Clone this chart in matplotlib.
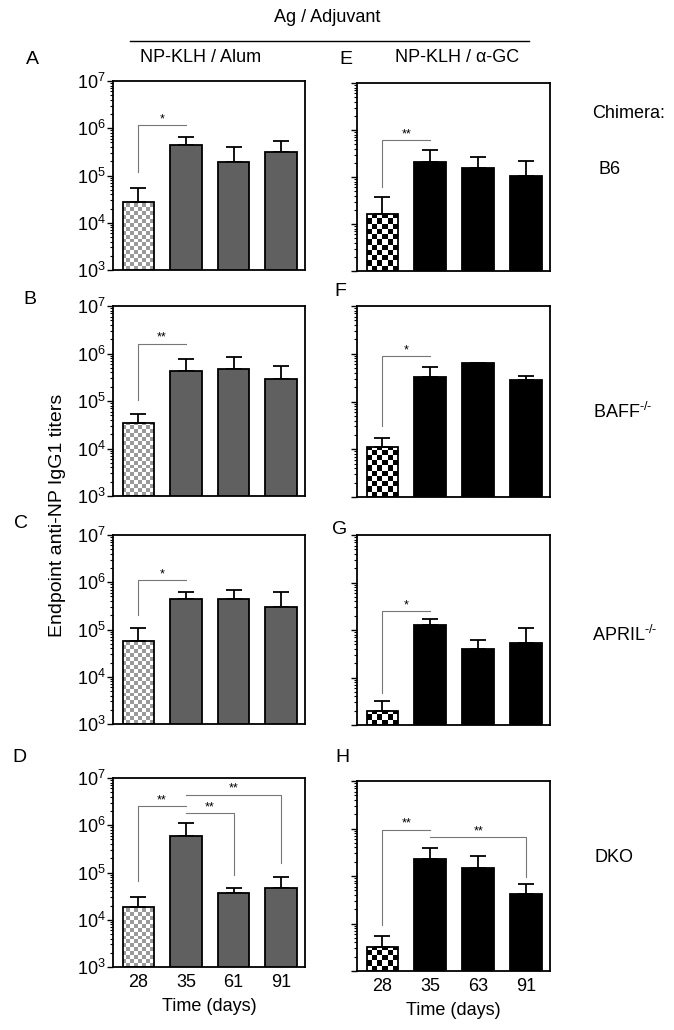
import numpy as np
import matplotlib
matplotlib.use("Agg")
import matplotlib.pyplot as plt
from matplotlib.colors import ListedColormap
from matplotlib.lines import Line2D
from matplotlib.ticker import LogLocator, LogFormatterSciNotation, NullFormatter

plt.rcParams['font.family'] = ['Liberation Sans', 'DejaVu Sans']
plt.rcParams['mathtext.fontset'] = 'custom'
plt.rcParams['mathtext.rm'] = 'Liberation Sans'
plt.rcParams['mathtext.it'] = 'Liberation Sans:italic'

# x categories (days after immunisation)
days_alum = ['28', '35', '61', '91']
days_agc = ['28', '35', '63', '91']

# mean endpoint titers and top of the error bar, NP-KLH / Alum
alum_b6 = [2.8e4, 4.5e5, 1.9e5, 3.2e5]
alum_b6_top = [5.5e4, 6.6e5, 4.0e5, 5.5e5]
alum_baff = [3.4e4, 4.3e5, 4.8e5, 2.9e5]
alum_baff_top = [5.3e4, 7.7e5, 8.3e5, 5.5e5]
alum_april = [5.8e4, 4.4e5, 4.4e5, 3.0e5]
alum_april_top = [1.09e5, 6.1e5, 6.7e5, 6.1e5]
alum_dko = [1.9e4, 6.0e5, 3.6e4, 4.8e4]
alum_dko_top = [3.0e4, 1.12e6, 4.6e4, 8.0e4]

# NP-KLH / alpha-GC
agc_b6 = [1.6e4, 2.1e5, 1.55e5, 1.03e5]
agc_b6_top = [3.75e4, 3.7e5, 2.6e5, 2.15e5]
agc_baff = [1.12e4, 3.2e5, 6.3e5, 2.8e5]
agc_baff_top = [1.73e4, 5.3e5, 6.3e5, 3.45e5]
agc_april = [2.0e3, 1.27e5, 3.9e4, 5.4e4]
agc_april_top = [3.2e3, 1.68e5, 6.2e4, 1.12e5]
agc_dko = [3.2e3, 2.3e5, 1.5e5, 4.1e4]
agc_dko_top = [5.5e3, 3.95e5, 2.6e5, 6.9e4]

# significance brackets: (bar i, bar j, left end, top, right end, stars)
sig_a = [(0, 1, 1.2e5, 1.15e6, 1.15e6, '*')]
sig_b = [(0, 1, 1.05e5, 1.6e6, 1.6e6, '**')]
sig_c = [(0, 1, 2.0e5, 1.1e6, 1.1e6, '*')]
sig_d = [(0, 1, 6.5e4, 2.5e6, 2.5e6, '**'),
         (1, 2, 1.8e6, 1.8e6, 8.9e4, '**'),
         (1, 3, 4.4e6, 4.4e6, 1.6e5, '**')]
sig_e = [(0, 1, 6.2e4, 6.0e5, 6.0e5, '**')]
sig_f = [(0, 1, 3.0e4, 8.9e5, 8.9e5, '*')]
sig_g = [(0, 1, 4.7e3, 2.5e5, 2.5e5, '*')]
sig_h = [(0, 1, 9.5e3, 9.5e5, 9.5e5, '**'),
         (1, 3, 6.6e5, 6.6e5, 9.5e4, '**')]

W, H = 674, 1030
fig = plt.figure(figsize=(W / 100, H / 100), dpi=100)


def add_ax(x0, x1, y0, y1):
    return fig.add_axes([x0 / W, 1 - y1 / H, (x1 - x0) / W, (y1 - y0) / H])


def draw_panel(ax, vals, tops, sigs, dark, check_col, n_sq, show_ylabels, xlabels):
    xs = np.arange(len(vals))
    bw = 0.66
    ax.set_yscale('log')
    ax.set_ylim(1e3, 1e7)
    ax.set_xlim(-0.53, 3.5)

    # pixel sizes for the checker squares
    pos = ax.get_position()
    px_per_x = pos.width * W / 4.03
    px_per_dec = pos.height * H / 4.0
    sq_dec = (bw * px_per_x / n_sq) / px_per_dec
    cmap = ListedColormap(['white', check_col])

    for i, (x, v) in enumerate(zip(xs, vals)):
        if i == 0:
            xe = np.linspace(x - bw / 2, x + bw / 2, n_sq + 1)
            ye = np.arange(3, np.log10(v), sq_dec)
            ye = 10 ** np.append(ye, np.log10(v))
            cc = (np.add.outer(np.arange(len(ye) - 1), np.arange(n_sq)) % 2)
            ax.pcolormesh(xe, ye, cc, cmap=cmap, vmin=0, vmax=1, zorder=1)
            ax.bar(x, v - 1e3, bw, bottom=1e3, facecolor='none', edgecolor='black',
                   linewidth=1.3, zorder=3)
        else:
            ax.bar(x, v - 1e3, bw, bottom=1e3, facecolor=dark, edgecolor='black',
                   linewidth=1.3, zorder=3)

    up = np.array(tops) - np.array(vals)
    ax.errorbar(xs, vals, yerr=[np.zeros(len(vals)), up], fmt='none',
                ecolor='black', elinewidth=1.3, capsize=6, capthick=1.3, zorder=2)

    for i, j, yl, yt, yr, s in sigs:
        ax.plot([i, i, j, j], [yl, yt, yt, yr], color='#777777', lw=0.8, zorder=2)
        ax.annotate(s, ((i + j) / 2, yt), xytext=(0, 0), textcoords='offset points',
                    ha='center', va='bottom', fontsize=9)

    for sp in ax.spines.values():
        sp.set_linewidth(1.3)
    ax.yaxis.set_major_locator(LogLocator(base=10, numticks=10))
    ax.yaxis.set_minor_locator(LogLocator(base=10, subs=np.arange(2, 10), numticks=20))
    ax.yaxis.set_minor_formatter(NullFormatter())
    if show_ylabels:
        ax.yaxis.set_major_formatter(LogFormatterSciNotation())
    else:
        ax.yaxis.set_major_formatter(NullFormatter())
    ax.tick_params(axis='y', which='major', direction='out', length=4, width=1,
                   labelsize=13, pad=1)
    ax.tick_params(axis='y', which='minor', direction='out', length=2.5, width=0.8)
    ax.set_xticks(xs)
    if xlabels is None:
        ax.set_xticklabels([])
    else:
        ax.set_xticklabels(xlabels, fontsize=13)
        ax.set_xlabel('Time (days)', fontsize=13, labelpad=5)
    ax.tick_params(axis='x', length=0, pad=5)


left_rows = [(81, 270), (306, 496), (535, 724), (778, 967)]
right_rows = [(83, 271), (306, 497), (535, 725), (781, 971)]

alum_vals = [alum_b6, alum_baff, alum_april, alum_dko]
alum_tops = [alum_b6_top, alum_baff_top, alum_april_top, alum_dko_top]
alum_sigs = [sig_a, sig_b, sig_c, sig_d]
agc_vals = [agc_b6, agc_baff, agc_april, agc_dko]
agc_tops = [agc_b6_top, agc_baff_top, agc_april_top, agc_dko_top]
agc_sigs = [sig_e, sig_f, sig_g, sig_h]

for r in range(4):
    ax = add_ax(113, 305, *left_rows[r])
    draw_panel(ax, alum_vals[r], alum_tops[r], alum_sigs[r], '#606060', '#9a9a9a',
               8, True, days_alum if r == 3 else None)
    ax = add_ax(357, 550, *right_rows[r])
    draw_panel(ax, agc_vals[r], agc_tops[r], agc_sigs[r], 'black', 'black',
               6, False, days_agc if r == 3 else None)

# header
fig.text(327 / W, 1 - 18 / H, 'Ag / Adjuvant', ha='center', va='center', fontsize=13)
fig.add_artist(Line2D([130 / W, 529 / W], [1 - 41 / H, 1 - 41 / H], color='black', lw=1))
fig.text(201 / W, 1 - 57 / H, 'NP-KLH / Alum', ha='center', va='center', fontsize=13)
fig.text(457 / W, 1 - 57 / H, 'NP-KLH / α-GC', ha='center', va='center', fontsize=13)

# panel letters
letters = ['A', 'B', 'C', 'D', 'E', 'F', 'G', 'H']
letter_xy = [(32, 59), (30, 299), (21, 523), (19, 757),
             (346, 59), (340, 292), (340, 529), (342, 757)]
for t, (lx, ly) in zip(letters, letter_xy):
    fig.text(lx / W, 1 - ly / H, t, ha='center', va='center', fontsize=14)

# y axis label
fig.text(58 / W, 1 - 515 / H, 'Endpoint anti-NP IgG1 titers', rotation=90,
         ha='center', va='center', fontsize=14)

# chimera labels
chimeras = ['Chimera:', 'B6', r'BAFF$^{\text{-/-}}$', r'APRIL$^{\text{-/-}}$', 'DKO']
chimera_xy = [(592, 113), (598, 170), (593, 412), (592, 635), (595, 857)]
for t, (cx, cy) in zip(chimeras, chimera_xy):
    fig.text(cx / W, 1 - cy / H, t, ha='left', va='center', fontsize=13)

fig.savefig('out.png', dpi=100)
